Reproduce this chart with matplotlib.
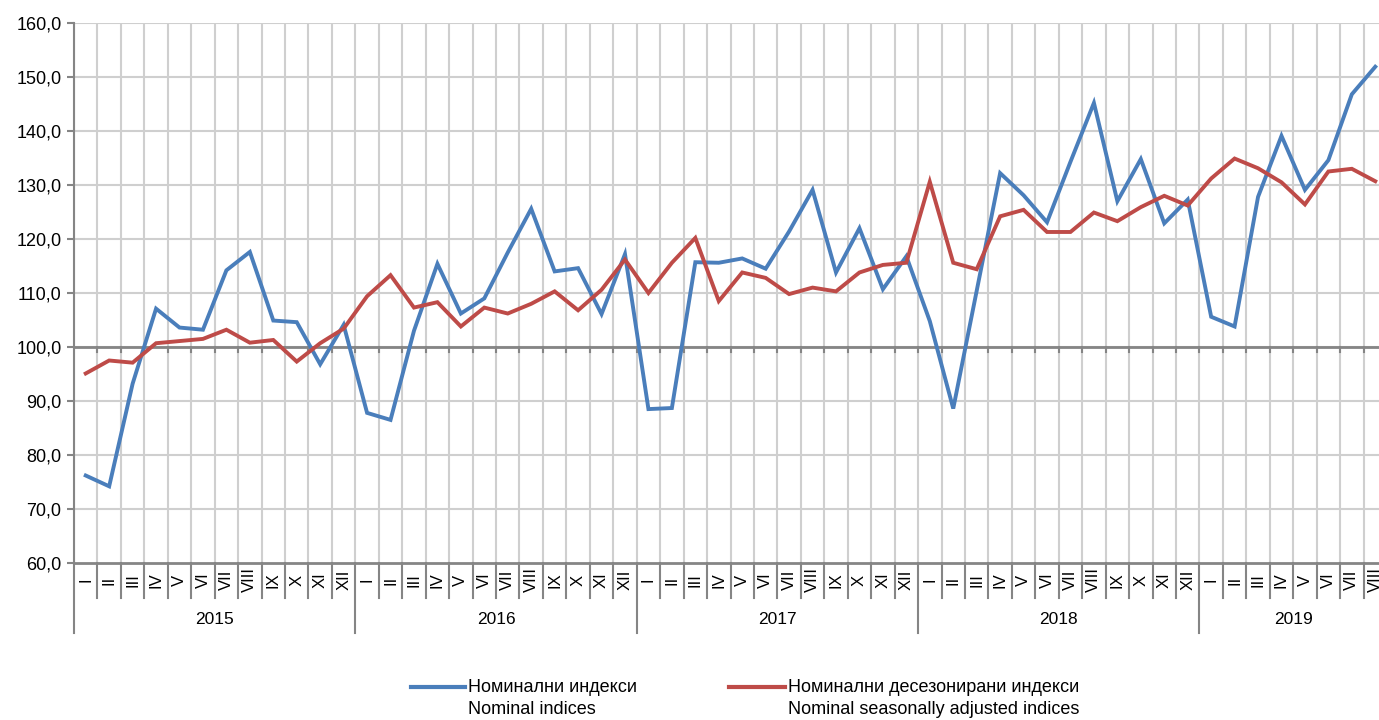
import matplotlib
matplotlib.use("Agg")
import matplotlib.pyplot as plt
from matplotlib.lines import Line2D
from matplotlib.ticker import FuncFormatter

plt.rcParams['font.family'] = ['Liberation Sans Narrow', 'Liberation Sans', 'DejaVu Sans']

years = ["2015", "2016", "2017", "2018", "2019"]
months = ["I", "II", "III", "IV", "V", "VI", "VII", "VIII", "IX", "X", "XI", "XII"]
month_labels = months * 4 + months[:8]

nominal = [
    76.2, 74.2, 93.2, 107.1, 103.6, 103.2, 114.2, 117.6, 104.9, 104.6, 96.8, 104.1,
    87.8, 86.5, 103.0, 115.4, 106.2, 109.0, 117.5, 125.6, 114.0, 114.6, 106.1, 117.2,
    88.5, 88.7, 115.7, 115.6, 116.4, 114.5, 121.4, 129.1, 113.8, 122.0, 110.7, 116.8,
    104.8, 88.6, 110.4, 132.2, 128.1, 123.1, 134.3, 145.2, 127.0, 134.8, 122.9, 127.3,
    105.6, 103.8, 127.8, 139.1, 129.1, 134.6, 146.8, 151.9,
]
seasonal = [
    95.1, 97.5, 97.1, 100.7, 101.1, 101.5, 103.2, 100.8, 101.3, 97.3, 100.7, 103.4,
    109.4, 113.3, 107.3, 108.3, 103.8, 107.3, 106.2, 108.0, 110.3, 106.8, 110.6, 116.2,
    110.0, 115.6, 120.2, 108.5, 113.8, 112.8, 109.8, 111.0, 110.3, 113.8, 115.2, 115.6,
    130.6, 115.6, 114.4, 124.2, 125.4, 121.3, 121.3, 124.9, 123.3, 125.9, 128.0, 126.2,
    131.2, 134.9, 133.1, 130.5, 126.4, 132.5, 133.0, 130.7,
]

label_nominal = ("Номинални индекси", "Nominal indices")
label_seasonal = ("Номинални десезонирани индекси", "Nominal seasonally adjusted indices")

blue = "#4a7ebb"
red = "#be4b48"
grid_c = "#cfcfcf"
axis_c = "#858585"

fig = plt.figure(figsize=(13.79, 7.2), dpi=100)
# axes run a few pixels past the right edge, as in the original crop
ax = fig.add_axes([74 / 1379, 1 - 563 / 720, 1313 / 1379, 540 / 720])

n = len(nominal)
x = list(range(n))
ax.set_xlim(-0.5, n - 0.5)
ax.set_ylim(60, 160)

# grid
for k in range(n + 1):
    ax.axvline(k - 0.5, color=grid_c, lw=1.5, zorder=1)
for v in range(70, 161, 10):
    ax.axhline(v, color=grid_c, lw=1.5, zorder=1)

# category axis crossing at 100
ax.axhline(100, color=axis_c, lw=2, zorder=2)
for k in range(1, n):
    ax.plot([k - 0.5, k - 0.5], [100, 99.1], color=axis_c, lw=1.5, zorder=2)

ax.plot(x, nominal, color=blue, lw=2.8, zorder=3, solid_joinstyle="miter")
ax.plot(x, seasonal, color=red, lw=2.8, zorder=3, solid_joinstyle="miter")

for side in ["top", "right"]:
    ax.spines[side].set_visible(False)
ax.spines["left"].set_color(axis_c)
ax.spines["left"].set_linewidth(1.5)
ax.spines["bottom"].set_color(axis_c)
ax.spines["bottom"].set_linewidth(2)

ax.set_yticks(range(60, 161, 10))
ax.yaxis.set_major_formatter(FuncFormatter(lambda v, p: f"{v:.1f}".replace(".", ",")))
ax.tick_params(axis="y", length=5, width=1.5, color=axis_c, labelsize=13, pad=4)
ax.set_xticks([])

# month and year labels below the axis
tr = ax.get_xaxis_transform()
px = 1 / 540
for i, lab in enumerate(month_labels):
    ax.text(i, -17 * px, lab, transform=tr, rotation=90, ha="center", va="center",
            fontsize=12, clip_on=False)
for k in range(n + 1):
    bottom = -70 * px if k % 12 == 0 else -35 * px
    ax.add_line(Line2D([k - 0.5, k - 0.5], [0, bottom], transform=tr, color=axis_c,
                       lw=1.5, clip_on=False))
for j, yr in enumerate(years):
    start = j * 12
    end = min(start + 12, n)
    ax.text((start + end - 1) / 2, -57 * px, yr, transform=tr, ha="center", va="center",
            fontsize=12.5, clip_on=False)

# legend drawn by hand at the bottom
def legend_entry(x0, x1, color, labels):
    fig.add_artist(Line2D([x0 / 1379, x1 / 1379], [1 - 687 / 720, 1 - 687 / 720],
                          color=color, lw=3, transform=fig.transFigure))
    fig.text((x1 + 3) / 1379, 1 - 687 / 720, labels[0], ha="left", va="center", fontsize=13)
    fig.text((x1 + 3) / 1379, 1 - 710 / 720, labels[1], ha="left", va="center", fontsize=13)

legend_entry(411, 465, blue, label_nominal)
legend_entry(729, 785, red, label_seasonal)

fig.savefig("out.png", dpi=100)
